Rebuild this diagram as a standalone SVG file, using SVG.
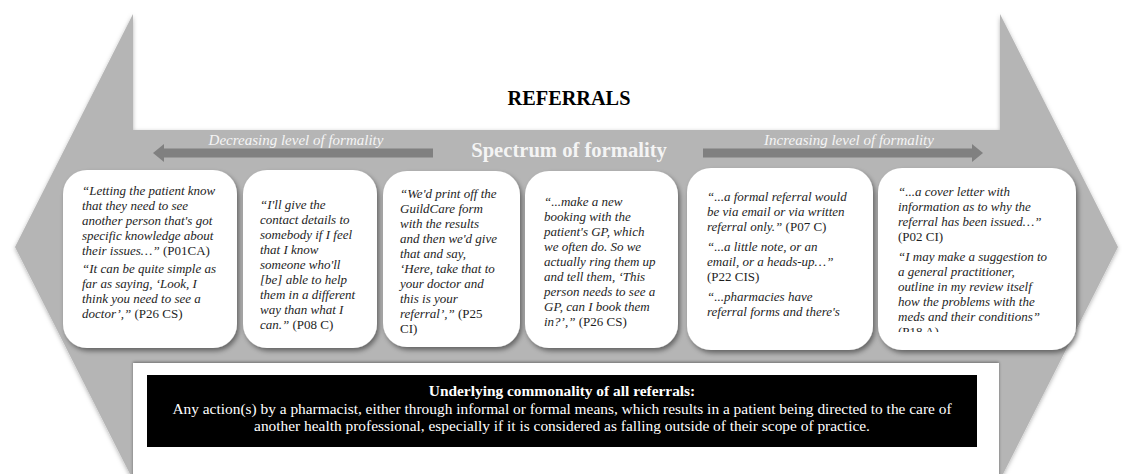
<svg xmlns="http://www.w3.org/2000/svg" width="1123" height="474" viewBox="0 0 1123 474" font-family="'Liberation Serif', Times, 'DejaVu Serif', serif">
<defs>
<filter id="cardShadow" x="-10%" y="-10%" width="125%" height="125%">
<feDropShadow dx="2" dy="3" stdDeviation="2.5" flood-color="#000" flood-opacity="0.45"/>
</filter>
<filter id="arrowShadow" x="-5%" y="-5%" width="110%" height="110%">
<feDropShadow dx="0" dy="1.5" stdDeviation="2" flood-color="#000" flood-opacity="0.3"/>
</filter>
<filter id="panelShadow" x="-5%" y="-10%" width="110%" height="120%">
<feDropShadow dx="0" dy="-1" stdDeviation="1.5" flood-color="#000" flood-opacity="0.4"/>
</filter>
<marker id="head" markerUnits="userSpaceOnUse" markerWidth="12" markerHeight="20" refX="0" refY="9" orient="auto">
<path d="M0,0 L11,9 L0,18 Z" fill="#808080"/>
</marker>
<clipPath id="clip6"><rect x="878" y="160" width="200" height="172"/></clipPath>
</defs>
<style>
.big{fill:#b5b5b5}
.card{fill:#ffffff;filter:url(#cardShadow)}
.q{font-family:'Liberation Serif',Times,'DejaVu Serif',serif;font-size:13px;font-style:italic;fill:#1e1e1e}
.n{font-style:normal}
.small{stroke:#808080;stroke-width:9;fill:none}
.lab{font-family:'Liberation Serif',Times,'DejaVu Serif',serif;font-size:15px;font-style:italic;fill:#f4f4f4;text-anchor:middle}
.title{font-family:'Liberation Serif',Times,'DejaVu Serif',serif;font-weight:bold;text-anchor:middle}
.def{font-family:'Liberation Serif',Times,'DejaVu Serif',serif;font-size:15.4px;fill:#ffffff;text-anchor:middle}
</style>

<g id="background-arrow">
<polygon class="big" filter="url(#arrowShadow)" points="133,14 133,130 1000,130 1000,14 1118,247 1000,480 133,480 15,247"/>
<rect x="133" y="363" width="866" height="120" fill="#ffffff" filter="url(#panelShadow)"/>
</g>

<g id="title">
<text class="title" x="569" y="105" font-size="20.3" fill="#000">REFERRALS</text>
<text class="title" x="569" y="157" font-size="20.6" fill="#f4f4f4">Spectrum of formality</text>
</g>

<g id="connectors">
<line class="small" x1="433" y1="153" x2="164" y2="153" marker-end="url(#head)"/>
<line class="small" x1="703" y1="153" x2="972" y2="153" marker-end="url(#head)"/>
<text class="lab" x="296" y="145">Decreasing level of formality</text>
<text class="lab" x="849" y="145">Increasing level of formality</text>
</g>

<g id="card1">
<rect class="card" x="63" y="170" width="174" height="178" rx="24"/>
<text class="q">
<tspan x="82" y="195">“Letting the patient know</tspan>
<tspan x="82" y="210">that they need to see</tspan>
<tspan x="82" y="225">another person that's got</tspan>
<tspan x="82" y="240">specific knowledge about</tspan>
<tspan x="82" y="255">their issues…” <tspan class="n">(P01CA)</tspan></tspan>
<tspan x="82" y="273">“It can be quite simple as</tspan>
<tspan x="82" y="288">far as saying, ‘Look, I</tspan>
<tspan x="82" y="303">think you need to see a</tspan>
<tspan x="82" y="318">doctor’,” <tspan class="n">(P26 CS)</tspan></tspan>
</text>
</g>

<g id="card2">
<rect class="card" x="243" y="170" width="134" height="178" rx="24"/>
<text class="q">
<tspan x="260" y="208.5">“I'll give the</tspan>
<tspan x="260" y="223.5">contact details to</tspan>
<tspan x="260" y="238.5">somebody if I feel</tspan>
<tspan x="260" y="253.5">that I know</tspan>
<tspan x="260" y="268.5">someone who'll</tspan>
<tspan x="260" y="283.5">[be] able to help</tspan>
<tspan x="260" y="298.5">them in a different</tspan>
<tspan x="260" y="313.5">way than what I</tspan>
<tspan x="260" y="328.5">can.” <tspan class="n">(P08 C)</tspan></tspan>
</text>
</g>

<g id="card3">
<rect class="card" x="383" y="171" width="137" height="176" rx="24"/>
<text class="q">
<tspan x="400" y="198">“We'd print off the</tspan>
<tspan x="400" y="213">GuildCare form</tspan>
<tspan x="400" y="228">with the results</tspan>
<tspan x="400" y="243">and then we'd give</tspan>
<tspan x="400" y="258">that and say,</tspan>
<tspan x="400" y="273">‘Here, take that to</tspan>
<tspan x="400" y="288">your doctor and</tspan>
<tspan x="400" y="303">this is your</tspan>
<tspan x="400" y="318">referral’,” <tspan class="n">(P25</tspan></tspan>
<tspan x="400" y="333" class="n">CI)</tspan>
</text>
</g>

<g id="card4">
<rect class="card" x="525" y="171" width="153" height="177" rx="24"/>
<text class="q">
<tspan x="544" y="205.5">“...make a new</tspan>
<tspan x="544" y="220.5">booking with the</tspan>
<tspan x="544" y="235.5">patient's GP, which</tspan>
<tspan x="544" y="250.5">we often do. So we</tspan>
<tspan x="544" y="265.5">actually ring them up</tspan>
<tspan x="544" y="280.5">and tell them, ‘This</tspan>
<tspan x="544" y="295.5">person needs to see a</tspan>
<tspan x="544" y="310.5">GP, can I book them</tspan>
<tspan x="544" y="325.5">in?’,” <tspan class="n">(P26 CS)</tspan></tspan>
</text>
</g>

<g id="card5">
<rect class="card" x="687" y="168" width="186" height="182" rx="24"/>
<text class="q">
<tspan x="707" y="201">“...a formal referral would</tspan>
<tspan x="707" y="216">be via email or via written</tspan>
<tspan x="707" y="231">referral only.” <tspan class="n">(P07 C)</tspan></tspan>
<tspan x="707" y="251">“...a little note, or an</tspan>
<tspan x="707" y="266">email, or a heads-up…”</tspan>
<tspan x="707" y="281" class="n">(P22 CIS)</tspan>
<tspan x="707" y="301">“...pharmacies have</tspan>
<tspan x="707" y="316">referral forms and there's</tspan>
</text>
</g>

<g id="card6">
<rect class="card" x="878" y="168" width="198" height="182" rx="24"/>
<text class="q" clip-path="url(#clip6)">
<tspan x="898" y="195.5">“...a cover letter with</tspan>
<tspan x="898" y="210.5">information as to why the</tspan>
<tspan x="898" y="225.5">referral has been issued…”</tspan>
<tspan x="898" y="240.5" class="n">(P02 CI)</tspan>
<tspan x="898" y="260.5">“I may make a suggestion to</tspan>
<tspan x="898" y="275.5">a general practitioner,</tspan>
<tspan x="898" y="290.5">outline in my review itself</tspan>
<tspan x="898" y="305.5">how the problems with the</tspan>
<tspan x="898" y="320.5">meds and their conditions”</tspan>
<tspan x="898" y="335.5" class="n">(P18 A)</tspan>
</text>
</g>

<g id="definition">
<rect x="147" y="375" width="830" height="72" fill="#000000"/>
<text class="def" x="562" y="396" font-weight="bold">Underlying commonality of all referrals:</text>
<text class="def" x="562" y="413.5">Any action(s) by a pharmacist, either through informal or formal means, which results in a patient being directed to the care of</text>
<text class="def" x="562" y="431">another health professional, especially if it is considered as falling outside of their scope of practice.</text>
</g>
</svg>
